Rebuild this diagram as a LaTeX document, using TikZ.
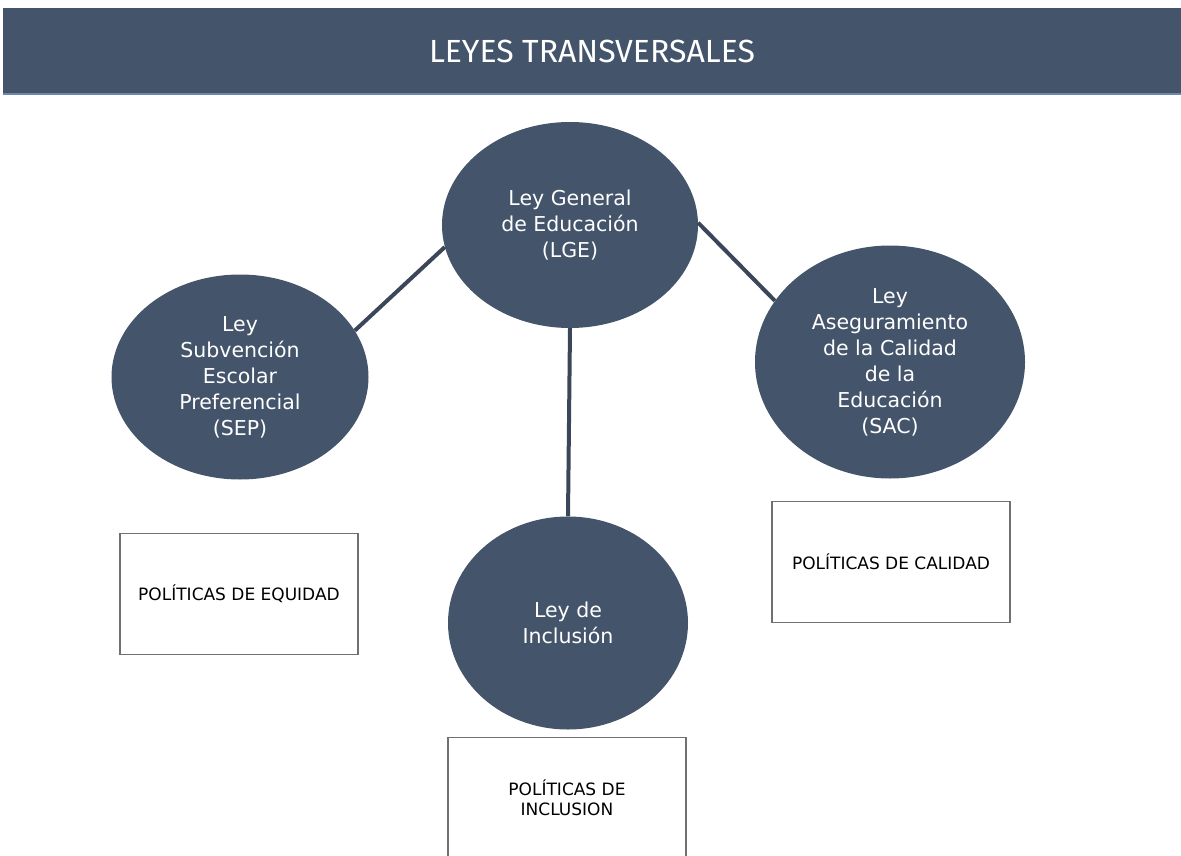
\documentclass[tikz,border=0pt]{standalone}
\usepackage{fontspec}
\setmainfont{DejaVu Sans}
\newfontfamily\titlefont{Fira Sans}
\usetikzlibrary{shapes.geometric}
\definecolor{slate}{HTML}{44546A}
\definecolor{slateline}{HTML}{3B4659}
\definecolor{bandline}{HTML}{6F86A6}
\definecolor{boxgray}{HTML}{707070}
\tikzset{
    ley/.style={ellipse, fill=slate, text=white, align=center, inner sep=0pt,
        font=\fontsize{20.5}{26}\selectfont},
    politica/.style={draw=boxgray, line width=1.5pt, fill=white, align=center,
        minimum width=238pt, minimum height=121pt, font=\fontsize{17}{20}\selectfont},
    enlace/.style={slateline, line width=4pt}
}
\begin{document}
\begin{tikzpicture}[x=1pt,y=-1pt]
    \useasboundingbox (0,0) rectangle (1181,856);
    \node[fill=slate, minimum width=1178pt, minimum height=86pt, text=white,
        font=\titlefont\fontsize{32}{36}\selectfont] (titulo) at (592,51) {LEYES TRANSVERSALES};
    \draw[bandline, line width=2pt] (titulo.south west) -- (titulo.south east);

    \node[ley, minimum width=256pt, minimum height=206pt] (lge) at (570,225) {Ley General\\de Educación\\(LGE)};
    \node[ley, minimum width=257pt, minimum height=205pt] (sep) at (240,377) {Ley\\Subvención\\Escolar\\Preferencial\\(SEP)};
    \node[ley, minimum width=270pt, minimum height=233pt] (sac) at (890,362) {Ley\\Aseguramiento\\de la Calidad\\de la\\Educación\\(SAC)};
    \node[ley, minimum width=240pt, minimum height=213pt] (inclusion) at (568,623) {Ley de\\Inclusión};

    \draw[enlace] (lge.190) -- (sep.22);
    \draw[enlace] (lge.1) -- (sac.152);
    \draw[enlace] (lge.south) -- (inclusion.north);

    \node[politica] (equidad) at (239,594) {POLÍTICAS DE EQUIDAD};
    \node[politica] (calidad) at (891,562) {POLÍTICAS DE CALIDAD};
    \node[politica] (pinclusion) at (567,798) {POLÍTICAS DE\\INCLUSION};
\end{tikzpicture}
\end{document}
